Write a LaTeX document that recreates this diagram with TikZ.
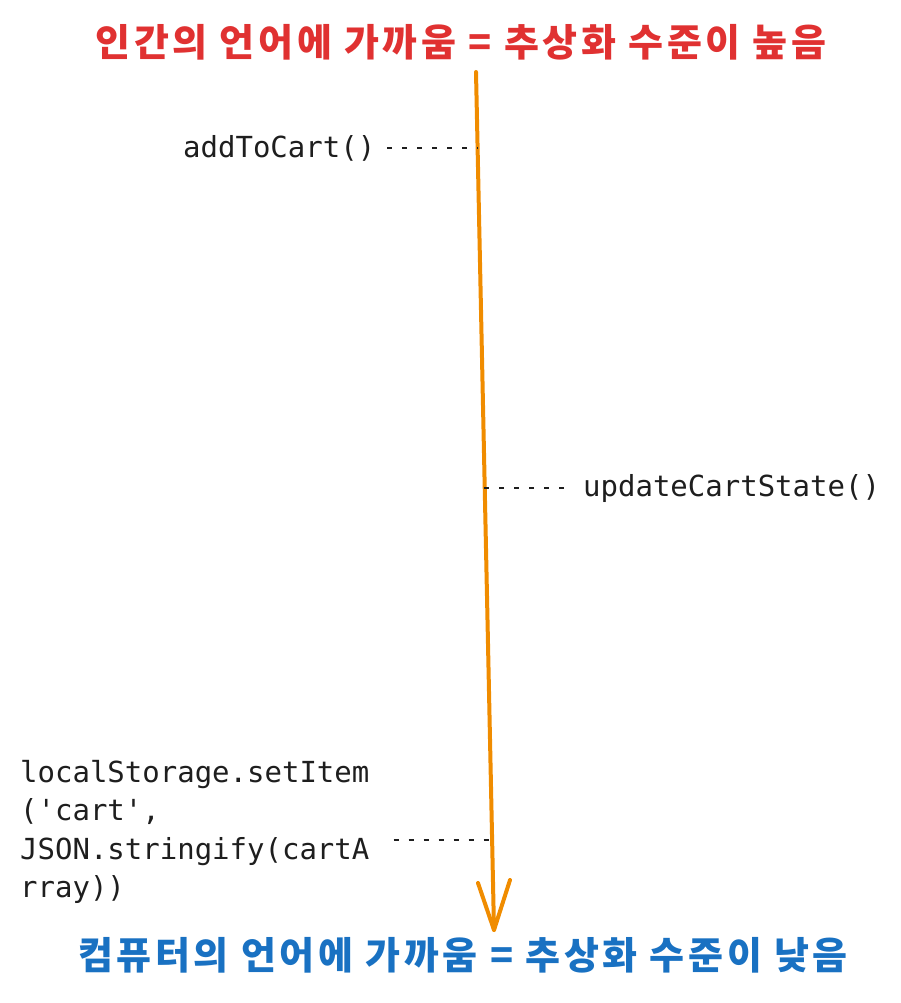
\documentclass[tikz,border=0pt]{standalone}
\usepackage{fontspec}
\newfontfamily\kr[LetterSpace=9.5]{Noto Sans CJK KR}
\newfontfamily\code{DejaVu Sans Mono}
\definecolor{ared}{HTML}{E03131}
\definecolor{ablue}{HTML}{1971C2}
\definecolor{aorange}{HTML}{F08C00}
\definecolor{ink}{HTML}{1E1E1E}
\begin{document}
\begin{tikzpicture}[x=1pt,y=-1pt,
  krtitle/.style={inner sep=0pt, font=\kr\bfseries\fontsize{38}{44}\selectfont},
  codelabel/.style={inner sep=0pt, text=ink, font=\code\fontsize{29}{38.5}\selectfont},
  arrowline/.style={draw=aorange, line width=4pt, line cap=round, line join=round},
  dotline/.style={draw=ink, line width=2pt, dash pattern=on 5pt off 10pt}]
\useasboundingbox (0,0) rectangle (901,1003);
% titles
\node[krtitle, text=ared] (high) at (461,42) {인간의 언어에 가까움 = 추상화 수준이 높음};
\node[krtitle, text=ablue] (low) at (463,955) {컴퓨터의 언어에 가까움 = 추상화 수준이 낮음};
% main arrow
\coordinate (start) at (476,72);
\coordinate (tip) at (494,930);
\coordinate (wl) at (478,883);
\coordinate (wr) at (510,880);
\draw[arrowline] (start) -- (tip);
\draw[arrowline] (wl) -- (tip) -- (wr);
% labels
\node[codelabel, anchor=west] (add) at (183,148) {addToCart()};
\coordinate (addp) at (478,148);
\draw[dotline] ([xshift=12pt]add.east |- addp) -- (addp);
\node[codelabel, anchor=west] (upd) at (583,488) {updateCartState()};
\coordinate (updp) at (484,488);
\draw[dotline] (updp) -- ([xshift=-10pt]upd.west |- updp);
\node[codelabel, anchor=north west, align=left] (ls) at (20,760) {localStorage.setItem\\('cart',\\JSON.stringify(cartA\\rray))};
\coordinate (lsp) at (490,840);
\draw[dotline] ([xshift=24pt]ls.east |- lsp) -- (lsp);
\end{tikzpicture}
\end{document}
